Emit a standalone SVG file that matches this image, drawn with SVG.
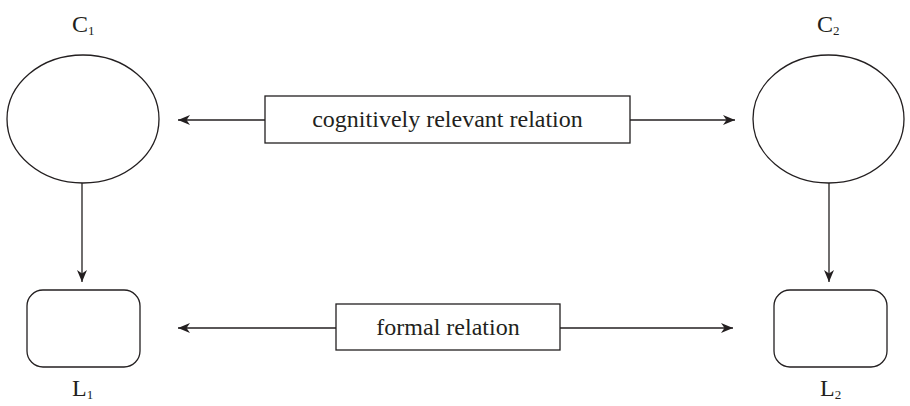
<svg xmlns="http://www.w3.org/2000/svg" width="910" height="406" viewBox="0 0 910 406">
<style>
.s{fill:#fff;stroke:#231f20;stroke-width:1.3}
.c{stroke:#231f20;stroke-width:1.3;fill:none;marker-end:url(#ah)}
text{font-family:"Liberation Serif","Times New Roman",serif;fill:#231f20}
.t{font-size:24px;text-anchor:middle}
.lab{font-size:24px}
.sub{font-size:13px}
</style>
<defs>
<marker id="ah" markerWidth="13" markerHeight="11" refX="12" refY="5.5" orient="auto" markerUnits="userSpaceOnUse">
<path d="M0,0.5 L12,5.5 L0,10.5 L3.5,5.5 Z" fill="#231f20"/>
</marker>
</defs>
<rect width="910" height="406" fill="#fff"/>
<g id="connectors">
<line class="c" x1="265" y1="120" x2="178" y2="120"/>
<line class="c" x1="630" y1="120" x2="735" y2="120"/>
<line class="c" x1="336" y1="328" x2="178" y2="328"/>
<line class="c" x1="560" y1="328" x2="733" y2="328"/>
<line class="c" x1="82" y1="183" x2="82" y2="282"/>
<line class="c" x1="829" y1="183" x2="829" y2="282"/>
</g>
<g id="C1">
<ellipse class="s" cx="83" cy="119" rx="76" ry="64"/>
<text class="lab" x="72" y="32">C<tspan class="sub" dy="3">1</tspan></text>
</g>
<g id="C2">
<ellipse class="s" cx="828.5" cy="119" rx="75.5" ry="64"/>
<text class="lab" x="817" y="32">C<tspan class="sub" dy="3">2</tspan></text>
</g>
<g id="L1">
<rect class="s" x="27" y="290" width="113" height="77" rx="16" ry="16"/>
<text class="lab" x="72" y="396">L<tspan class="sub" dy="3">1</tspan></text>
</g>
<g id="L2">
<rect class="s" x="774" y="290" width="113" height="77" rx="16" ry="16"/>
<text class="lab" x="820" y="396">L<tspan class="sub" dy="3">2</tspan></text>
</g>
<g id="relation-cog">
<rect class="s" x="265" y="96" width="365" height="47"/>
<text class="t" x="447.5" y="127">cognitively relevant relation</text>
</g>
<g id="relation-formal">
<rect class="s" x="336" y="304" width="224" height="46"/>
<text class="t" x="448" y="335">formal relation</text>
</g>
</svg>
